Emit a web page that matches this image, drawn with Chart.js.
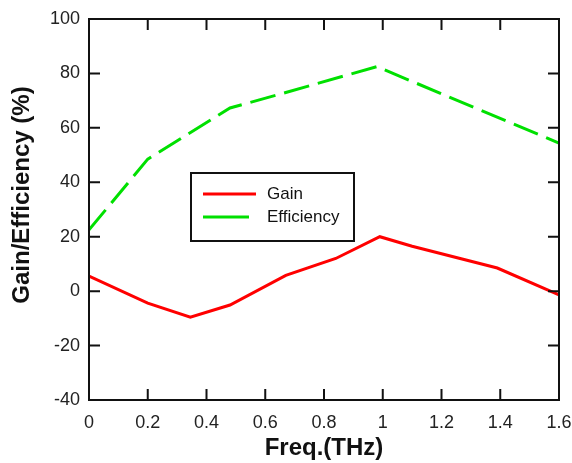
<!DOCTYPE html>
<html>
<head>
<meta charset="utf-8">
<script src="https://cdn.jsdelivr.net/npm/chart.js@4.4.1/dist/chart.umd.min.js"></script>
<style>
  html, body { margin: 0; padding: 0; background: #fff; }
  #wrap { width: 572px; height: 463px; }
</style>
</head>
<body>
<div id="wrap"><canvas id="gain-chart" width="572" height="463"></canvas></div>
<script>
// values
const gainFreq = [0, 0.2, 0.345, 0.48, 0.67, 0.84, 0.99, 1.1, 1.39, 1.6];
const gainValues = [5.5, -4.4, -9.6, -5.1, 5.8, 12, 20, 16.5, 8.5, -1.4];

const effFreq = [0, 0.2, 0.48, 0.67, 0.98, 1.6];
const effValues = [22.5, 48.5, 67.3, 73, 82.5, 54.4];

const xMin = 0, xMax = 1.6, xStep = 0.2;
const yMin = -40, yMax = 100, yStep = 20;

const xTitle = "Freq.(THz)";
const yTitle = "Gain/Efficiency (%)";

// inward ticks on all four sides, frame, axis titles and the boxed legend
const framePlugin = {
    id: "frame",
    afterDraw(chart) {
        const ctx = chart.ctx;
        const area = chart.chartArea;
        const xs = chart.scales.x;
        const ys = chart.scales.y;
        const tick = 11;

        ctx.save();
        ctx.strokeStyle = "#111";
        ctx.lineWidth = 2;
        ctx.strokeRect(area.left, area.top, area.right - area.left, area.bottom - area.top);

        ctx.beginPath();
        xs.ticks.forEach(t => {
            const px = xs.getPixelForValue(t.value);
            ctx.moveTo(px, area.bottom);
            ctx.lineTo(px, area.bottom - tick);
            ctx.moveTo(px, area.top);
            ctx.lineTo(px, area.top + tick);
        });
        ys.ticks.forEach(t => {
            const py = ys.getPixelForValue(t.value);
            ctx.moveTo(area.left, py);
            ctx.lineTo(area.left + tick, py);
            ctx.moveTo(area.right, py);
            ctx.lineTo(area.right - tick, py);
        });
        ctx.stroke();

        // axis titles
        ctx.fillStyle = "#111";
        ctx.font = "bold 24px 'Liberation Sans', Arial, sans-serif";
        ctx.textAlign = "center";
        ctx.textBaseline = "middle";
        ctx.fillText(xTitle, (area.left + area.right) / 2, 448);
        ctx.translate(22, 195);
        ctx.rotate(-Math.PI / 2);
        ctx.fillText(yTitle, 0, 0);
        ctx.restore();

        // legend box
        ctx.save();
        ctx.strokeStyle = "#111";
        ctx.lineWidth = 2;
        ctx.fillStyle = "#fff";
        ctx.fillRect(191, 173, 163, 68);
        ctx.strokeRect(191, 173, 163, 68);
        ctx.font = "17px 'Liberation Sans', Arial, sans-serif";
        ctx.textAlign = "left";
        ctx.textBaseline = "middle";
        chart.data.datasets.forEach((ds, i) => {
            const y = 194 + i * 23;
            ctx.strokeStyle = ds.borderColor;
            ctx.lineWidth = 3;
            ctx.setLineDash([]);
            ctx.beginPath();
            ctx.moveTo(203, y);
            ctx.lineTo(i === 0 ? 256 : 249, y);
            ctx.stroke();
            ctx.fillStyle = "#111";
            ctx.fillText(ds.label, 267, y);
        });
        ctx.restore();
    },
};

const ctx = document.getElementById("gain-chart").getContext("2d");

new Chart(ctx, {
    type: "line",
    data: {
        datasets: [
            {
                label: "Gain",
                data: gainFreq.map((f, i) => ({ x: f, y: gainValues[i] })),
                borderColor: "#ff0000",
                borderWidth: 3,
                pointRadius: 0,
                fill: false,
                tension: 0,
            },
            {
                label: "Efficiency",
                data: effFreq.map((f, i) => ({ x: f, y: effValues[i] })),
                borderColor: "#00e000",
                borderWidth: 3,
                borderDash: [26, 9],
                pointRadius: 0,
                fill: false,
                tension: 0,
            },
        ],
    },
    options: {
        responsive: false,
        animation: false,
        layout: {
            padding: { top: 19, right: 13, left: 0, bottom: 0 },
        },
        plugins: {
            legend: { display: false },
            tooltip: { enabled: false },
        },
        scales: {
            x: {
                type: "linear",
                min: xMin,
                max: xMax,
                grid: { display: false, drawTicks: false },
                border: { display: false },
                afterFit(scale) {
                    scale.height = 63;
                    scale.paddingLeft = 0;
                    scale.paddingRight = 0;
                },
                ticks: {
                    stepSize: xStep,
                    padding: 12,
                    color: "#222",
                    font: { family: "'Liberation Sans', Arial, sans-serif", size: 18 },
                    maxRotation: 0,
                    callback: v => Number(v.toFixed(1)).toString(),
                },
            },
            y: {
                min: yMin,
                max: yMax,
                grid: { display: false, drawTicks: false },
                border: { display: false },
                afterFit(scale) {
                    scale.width = 89;
                    scale.paddingTop = 0;
                    scale.paddingBottom = 0;
                },
                ticks: {
                    stepSize: yStep,
                    padding: 9,
                    color: "#222",
                    font: { family: "'Liberation Sans', Arial, sans-serif", size: 18 },
                },
            },
        },
    },
    plugins: [framePlugin],
});
</script>
</body>
</html>
